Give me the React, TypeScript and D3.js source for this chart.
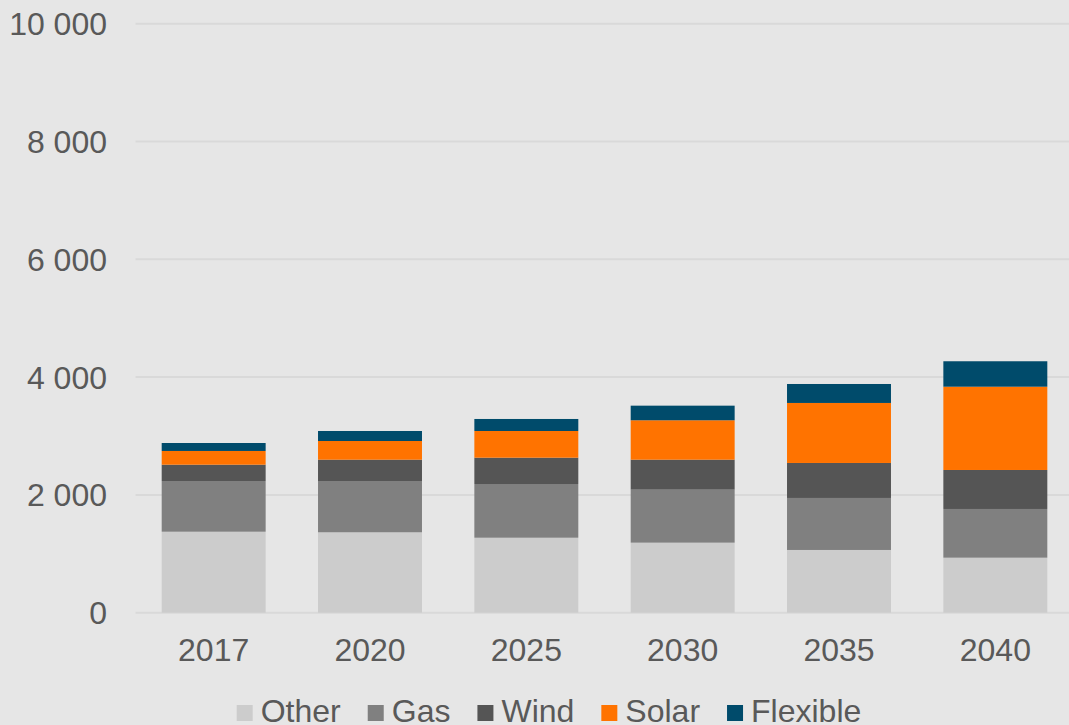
import React from "react";
import * as d3 from "d3";

const years = ["2017", "2020", "2025", "2030", "2035", "2040"];
const seriesNames = ["Other", "Gas", "Wind", "Solar", "Flexible"];
const other = [1375, 1365, 1273, 1189, 1065, 934];
const gas = [861, 871, 912, 900, 883, 827];
const wind = [277, 362, 447, 509, 594, 662];
const solar = [233, 317, 453, 669, 1019, 1414];
const flexible = [135, 170, 204, 248, 322, 432];
const yTicks = [0, 2000, 4000, 6000, 8000, 10000];
const colors = ["#cccccc", "#808080", "#555555", "#ff7300", "#004b6b"];

const W = 1069;
const H = 725;
const FONT = "'Liberation Sans', Arial, sans-serif";
const FS = 32;

function measure(text: string, size: number) {
  const c = document.createElement("canvas").getContext("2d");
  if (!c) return text.length * size * 0.55;
  c.font = `${size}px ${FONT}`;
  return c.measureText(text).width;
}

export default function App() {
  const rows = years.map((y, i) => ({
    year: y,
    Other: other[i],
    Gas: gas[i],
    Wind: wind[i],
    Solar: solar[i],
    Flexible: flexible[i],
  }));
  const stack = d3.stack<any>().keys(seriesNames)(rows);

  const x = d3
    .scaleBand<string>()
    .domain(years)
    .range([135.5, 1073.5])
    .paddingInner(0.335)
    .paddingOuter(0.1675);
  const y = d3.scaleLinear().domain([0, 10000]).range([612.7, 23.7]);
  const fmt = (v: number) => d3.format(",")(v).replace(/,/g, " ");

  // legend layout
  const sq = 16;
  const gap = 8;
  const spacing = 27;
  const widths = seriesNames.map((n) => sq + gap + measure(n, FS));
  const total = widths.reduce((a, b) => a + b, 0) + spacing * (seriesNames.length - 1);
  let lx = 549 - total / 2;
  const legendItems = seriesNames.map((n, i) => {
    const item = { name: n, x: lx, color: colors[i] };
    lx += widths[i] + spacing;
    return item;
  });

  return (
    <svg width={W} height={H} style={{ position: "absolute", left: 0, top: 0, display: "block" }}>
      <rect x={0} y={0} width={W} height={H} fill="#e6e6e6" />
      {yTicks.map((t) => (
        <g key={t}>
          <line x1={135.5} x2={W} y1={y(t)} y2={y(t)} stroke="#d9d9d9" strokeWidth={2} />
          <text
            x={107}
            y={y(t)}
            dy="0.36em"
            textAnchor="end"
            fontFamily={FONT}
            fontSize={FS}
            fill="#595959"
          >
            {fmt(t)}
          </text>
        </g>
      ))}
      {stack.map((s, si) => (
        <g key={s.key} fill={colors[si]}>
          {s.map((d, i) => (
            <rect
              key={i}
              x={x(years[i])}
              width={x.bandwidth()}
              y={y(d[1])}
              height={y(d[0]) - y(d[1])}
            />
          ))}
        </g>
      ))}
      {years.map((yr) => (
        <text
          key={yr}
          x={(x(yr) as number) + x.bandwidth() / 2}
          y={661}
          textAnchor="middle"
          fontFamily={FONT}
          fontSize={FS}
          fill="#595959"
        >
          {yr}
        </text>
      ))}
      {legendItems.map((it) => (
        <g key={it.name}>
          <rect x={it.x} y={705} width={sq} height={sq} fill={it.color} />
          <text x={it.x + sq + gap} y={722} fontFamily={FONT} fontSize={FS} fill="#595959">
            {it.name}
          </text>
        </g>
      ))}
    </svg>
  );
}
